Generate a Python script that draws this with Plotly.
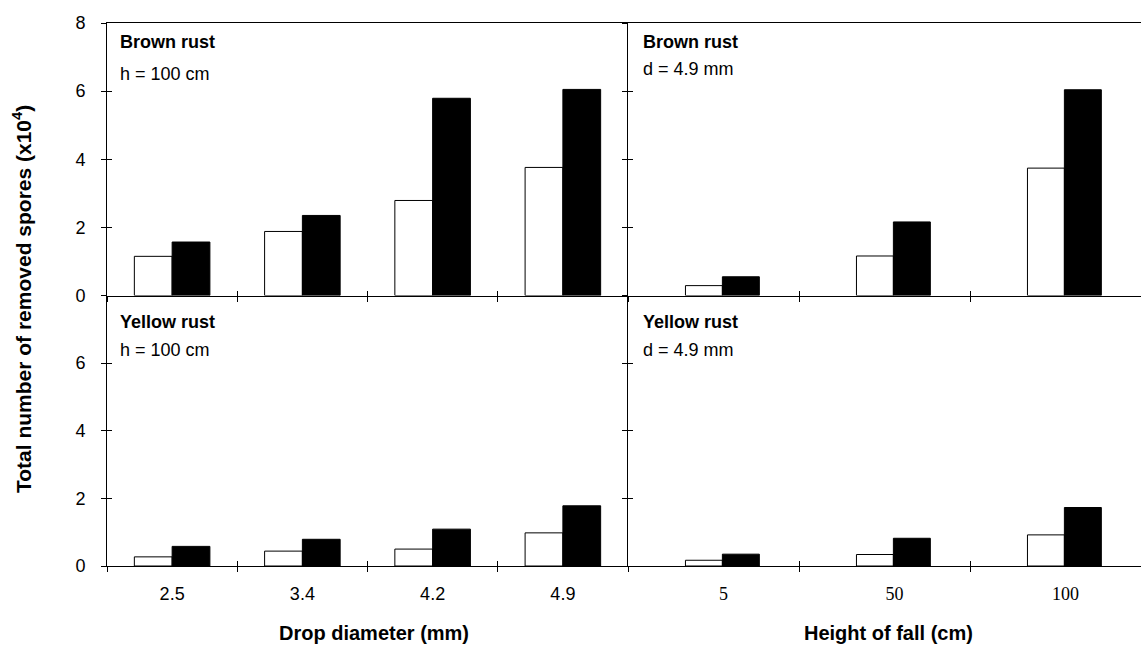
import plotly.graph_objects as go

# ---------------- data ----------------
diam_labels = ["2.5", "3.4", "4.2", "4.9"]
height_labels = ["5", "50", "100"]

brown_diam_white = [1.15, 1.88, 2.79, 3.76]
brown_diam_black = [1.57, 2.35, 5.79, 6.05]
brown_height_white = [0.29, 1.16, 3.74]
brown_height_black = [0.55, 2.16, 6.04]

yellow_diam_white = [0.27, 0.44, 0.50, 0.98]
yellow_diam_black = [0.58, 0.79, 1.09, 1.78]
yellow_height_white = [0.17, 0.34, 0.92]
yellow_height_black = [0.35, 0.82, 1.73]

y_tick_vals_top = [0, 2, 4, 6, 8]
y_tick_vals_bottom = [0, 2, 4, 6]

# ---------------- geometry ----------------
W, H = 1141, 648
L, R, T, B = 107, 0, 23, 82
PW, PH = W - L - R, H - T - B


def fx(px):
    return (px - L) / PW


def fy(py):
    return (H - B - py) / PH


xs = fx(628)
ys = fy(295.5)

SANS = "Liberation Sans, Arial, Helvetica, sans-serif"
SERIF = "Liberation Serif, Times New Roman, serif"

panels = [
    # id, xdomain, ydomain, cats, white, black, barwidth, shift, bottom, left
    (1, [0, xs], [ys, 1], diam_labels, brown_diam_white, brown_diam_black, 0.29, 0.0, False, True),
    (2, [xs, 1], [ys, 1], height_labels, brown_height_white, brown_height_black, 0.216, 0.052, False, False),
    (3, [0, xs], [0, ys], diam_labels, yellow_diam_white, yellow_diam_black, 0.29, 0.0, True, True),
    (4, [xs, 1], [0, ys], height_labels, yellow_height_white, yellow_height_black, 0.216, 0.052, True, False),
]

fig = go.Figure()
layout = {}


def aname(letter, i):
    return f"{letter}axis" if i == 1 else f"{letter}axis{i}"


def aref(letter, i):
    return letter if i == 1 else f"{letter}{i}"


for (i, xd, yd, cats, white, black, w, shift, bottom, left) in panels:
    xr, yr = aref("x", i), aref("y", i)
    xo, yo = i + 4, i + 4
    n = len(cats)
    yvals = y_tick_vals_bottom if bottom else y_tick_vals_top

    fig.add_trace(go.Bar(x=cats, y=white, xaxis=xr, yaxis=yr, width=w, offset=-w + shift,
                         marker=dict(color="white", line=dict(color="black", width=1)),
                         showlegend=False, hoverinfo="skip"))
    fig.add_trace(go.Bar(x=cats, y=black, xaxis=xr, yaxis=yr, width=w, offset=shift,
                         marker=dict(color="black", line=dict(color="black", width=1)),
                         showlegend=False, hoverinfo="skip"))
    # helper traces so overlay axes (inside half of crossing ticks) get drawn
    fig.add_trace(go.Scatter(x=cats, y=[None] * n, xaxis=aref("x", xo), yaxis=yr, mode="lines",
                             showlegend=False, hoverinfo="skip"))
    fig.add_trace(go.Scatter(x=cats, y=[None] * n, xaxis=xr, yaxis=aref("y", yo), mode="lines",
                             showlegend=False, hoverinfo="skip"))

    xbase = dict(type="category", categoryarray=cats, categoryorder="array",
                 range=[-0.5, n - 0.5], domain=xd, tickson="boundaries",
                 ticklen=5, tickcolor="black", tickwidth=1,
                 showgrid=False, zeroline=False, fixedrange=True)
    ybase = dict(range=[0, 8], domain=yd, tickmode="array", tickvals=yvals,
                 ticktext=[str(v) for v in yvals],
                 ticklen=5, tickcolor="black", tickwidth=1,
                 showgrid=False, zeroline=False, fixedrange=True)

    xa = dict(xbase, anchor=yr, ticks="outside", showline=True, linecolor="black",
              linewidth=1, mirror=(not bottom), showticklabels=bottom)
    if bottom:
        xa.update(tickfont=dict(family=SANS if i == 3 else SERIF, size=18, color="black"),
                  ticklabelstandoff=11)
        if i == 4:
            xa.update(ticklabelshift=10)
    layout[aname("x", i)] = xa

    ya = dict(ybase, anchor=xr, ticks="outside", showline=True, linecolor="black",
              linewidth=1, showticklabels=left)
    if left:
        ya.update(tickfont=dict(family=SANS, size=18, color="black"), ticklabelstandoff=12)
    layout[aname("y", i)] = ya

    layout[aname("x", xo)] = dict(xbase, overlaying=xr, anchor=yr, ticks="inside",
                                  showline=False, showticklabels=False)
    layout[aname("y", yo)] = dict(ybase, overlaying=yr, anchor=xr, ticks="inside",
                                  showline=False, showticklabels=False)

annotations = []
panel_text = [
    (118, 42, 74, "Brown rust", "h = 100 cm"),
    (641, 42, 69, "Brown rust", "d = 4.9 mm"),
    (118, 322, 350, "Yellow rust", "h = 100 cm"),
    (641, 322, 350, "Yellow rust", "d = 4.9 mm"),
]
for (px, py1, py2, t1, t2) in panel_text:
    annotations.append(dict(x=fx(px), y=fy(py1), xref="paper", yref="paper", text=f"<b>{t1}</b>",
                            showarrow=False, xanchor="left", yanchor="middle",
                            font=dict(family=SANS, size=18, color="black")))
    annotations.append(dict(x=fx(px), y=fy(py2), xref="paper", yref="paper", text=t2,
                            showarrow=False, xanchor="left", yanchor="middle",
                            font=dict(family=SANS, size=18, color="black")))

annotations.append(dict(x=fx(374), y=fy(633), xref="paper", yref="paper",
                        text="<b>Drop diameter (mm)</b>", showarrow=False,
                        xanchor="center", yanchor="middle",
                        font=dict(family=SANS, size=20, color="black")))
annotations.append(dict(x=fx(888), y=fy(633), xref="paper", yref="paper",
                        text="<b>Height of fall (cm)</b>", showarrow=False,
                        xanchor="center", yanchor="middle",
                        font=dict(family=SANS, size=20, color="black")))
annotations.append(dict(x=fx(22), y=fy(299), xref="paper", yref="paper",
                        text="<b>Total number of removed spores (x10<sup>4</sup>)</b>",
                        showarrow=False, textangle=-90,
                        xanchor="center", yanchor="middle",
                        font=dict(family=SANS, size=21, color="black")))

layout.update(dict(
    width=W, height=H,
    margin=dict(l=L, r=R, t=T, b=B, pad=0),
    paper_bgcolor="white", plot_bgcolor="white",
    barmode="overlay", showlegend=False,
    annotations=annotations,
    font=dict(family=SANS, size=18, color="black"),
))
fig.update_layout(**layout)

fig.write_html("out.html")
